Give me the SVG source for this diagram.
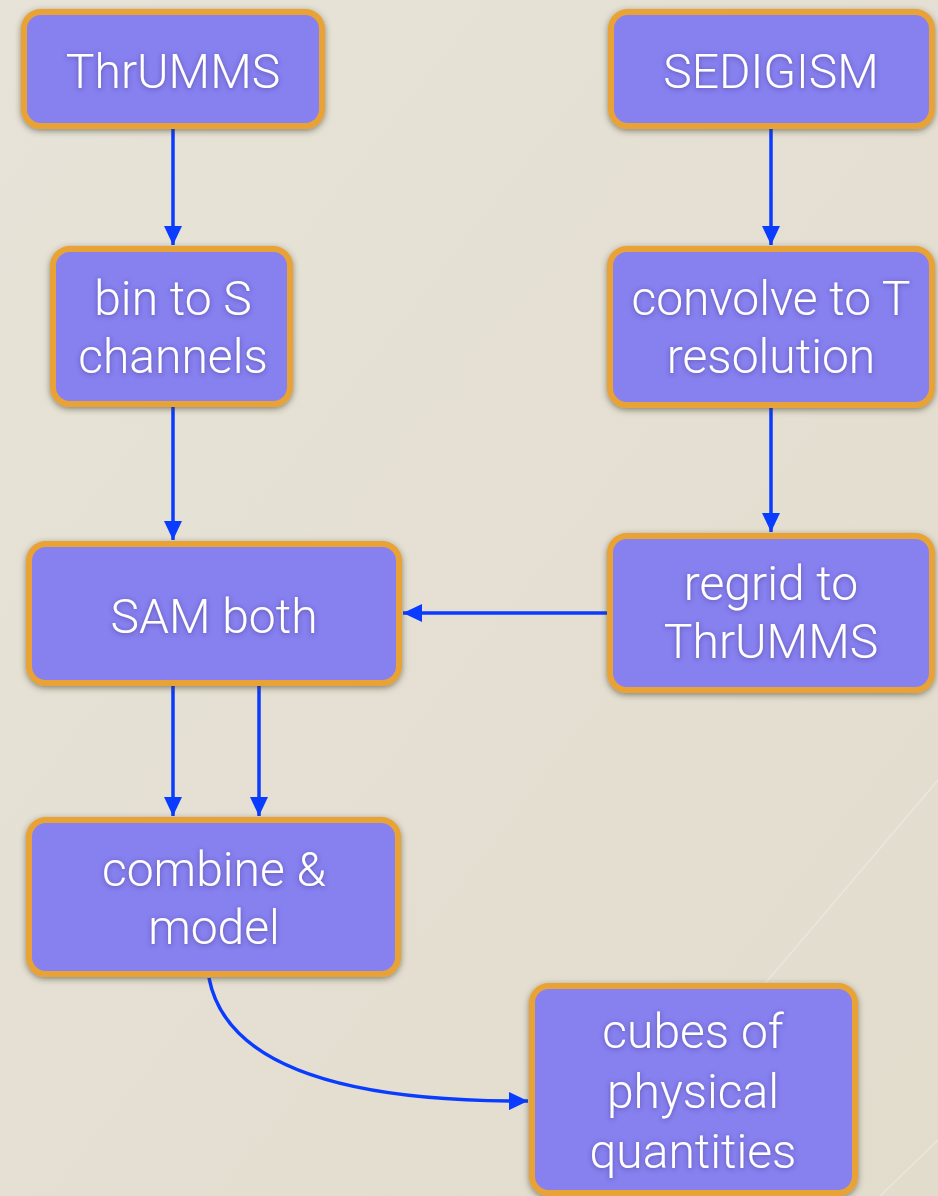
<svg xmlns="http://www.w3.org/2000/svg" width="938" height="1196" viewBox="0 0 938 1196">
<style>
.box{fill:#8780ef;stroke:#e8a234;stroke-width:6;filter:url(#sh)}
.t{font-family:Roboto,"Liberation Sans",sans-serif;font-weight:300;font-size:48px;fill:#ffffff;text-anchor:middle;filter:url(#ts)}
.c{fill:none;stroke:#0a3cff;stroke-width:3.5}
</style>
<defs>
<filter id="sh" x="-20%" y="-20%" width="140%" height="140%">
<feDropShadow dx="0" dy="2" stdDeviation="3" flood-color="#3a3520" flood-opacity="0.55"/>
</filter>
<filter id="ts" x="-10%" y="-30%" width="120%" height="160%">
<feDropShadow dx="0" dy="1" stdDeviation="2.5" flood-color="#3c3680" flood-opacity="0.6"/>
</filter>
<marker id="ah" viewBox="0 0 19 18" refX="19" refY="9" markerWidth="19" markerHeight="18" markerUnits="userSpaceOnUse" orient="auto">
<path d="M0,0 L19,9 L0,18 z" fill="#0a3cff"/>
</marker>
<linearGradient id="bg" x1="0" y1="0" x2="1" y2="1">
<stop offset="0" stop-color="#e7e3d8"/>
<stop offset="1" stop-color="#e2dccd"/>
</linearGradient>
</defs>
<rect x="0" y="0" width="938" height="1196" fill="url(#bg)"/>
<g stroke="#eeebe2" stroke-width="1.5" opacity="0.7">
<line x1="700" y1="1060" x2="938" y2="780"/>
<line x1="880" y1="1196" x2="938" y2="1140"/>
</g>
<g id="connectors">
<line class="c" x1="173" y1="129" x2="173" y2="245" marker-end="url(#ah)"/>
<line class="c" x1="771" y1="129" x2="771" y2="245" marker-end="url(#ah)"/>
<line class="c" x1="173" y1="407" x2="173" y2="540" marker-end="url(#ah)"/>
<line class="c" x1="771" y1="408" x2="771" y2="532" marker-end="url(#ah)"/>
<line class="c" x1="607" y1="613" x2="403" y2="613" marker-end="url(#ah)"/>
<line class="c" x1="173" y1="686" x2="173" y2="816" marker-end="url(#ah)"/>
<line class="c" x1="259" y1="686" x2="259" y2="816" marker-end="url(#ah)"/>
<path class="c" d="M209,978 C225,1060 330,1102 528,1101" marker-end="url(#ah)"/>
</g>
<g id="n-thrumms"><rect class="box" x="24" y="12" width="298" height="114" rx="17"/><text class="t" x="173" y="88">ThrUMMS</text></g>
<g id="n-sedigism"><rect class="box" x="611" y="12" width="321" height="114" rx="17"/><text class="t" x="771" y="88">SEDIGISM</text></g>
<g id="n-bin"><rect class="box" x="53" y="249" width="237" height="155" rx="17"/><text class="t" x="173" y="315">bin to S</text><text class="t" x="173" y="373">channels</text></g>
<g id="n-convolve"><rect class="box" x="610" y="249" width="322" height="156" rx="17"/><text class="t" x="771" y="315">convolve to T</text><text class="t" x="771" y="373">resolution</text></g>
<g id="n-sam"><rect class="box" x="29" y="544" width="370" height="139" rx="17"/><text class="t" x="214" y="633">SAM both</text></g>
<g id="n-regrid"><rect class="box" x="610" y="536" width="322" height="154" rx="17"/><text class="t" x="771" y="600">regrid to</text><text class="t" x="771" y="658">ThrUMMS</text></g>
<g id="n-combine"><rect class="box" x="29" y="820" width="369" height="154" rx="17"/><text class="t" x="214" y="886">combine &amp;</text><text class="t" x="214" y="944">model</text></g>
<g id="n-cubes"><rect class="box" x="532" y="986" width="323" height="207" rx="17"/><text class="t" x="693" y="1048">cubes of</text><text class="t" x="693" y="1108">physical</text><text class="t" x="693" y="1168">quantities</text></g>
</svg>
